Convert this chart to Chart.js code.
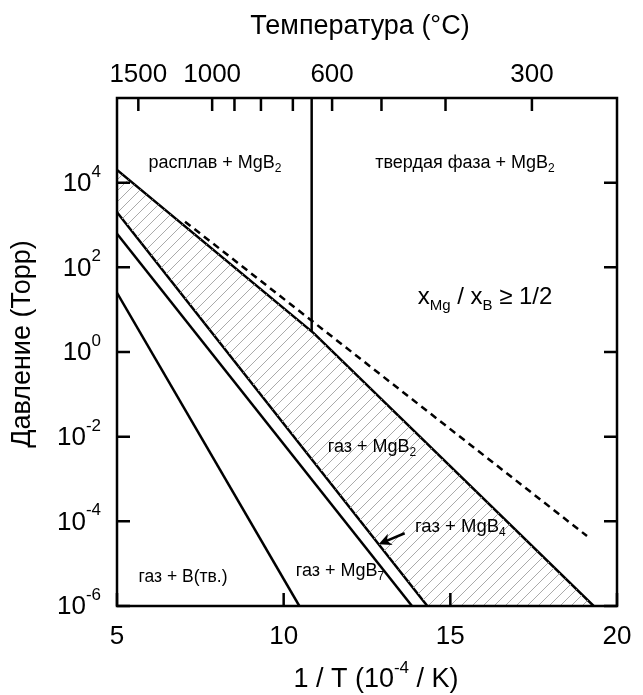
<!DOCTYPE html>
<html>
<head>
<meta charset="utf-8">
<script src="https://cdn.jsdelivr.net/npm/chart.js@4.4.0/dist/chart.umd.min.js"></script>
<style>
html, body { margin: 0; padding: 0; background: #fff; }
</style>
</head>
<body>
<canvas id="diag" width="643" height="695"></canvas>
<script>
// 1/T in 10^-4 K^-1, pressure in Torr
var xGasB  = [5, 10.47];         var pGasB  = [25, 1e-6];
var xGasB7 = [5, 13.85];         var pGasB7 = [620, 1e-6];
var xGasB4 = [5, 14.31];         var pGasB4 = [2000, 1e-6];
var xGasB2 = [5, 10.9, 19.3];    var pGasB2 = [20000, 2.8, 1e-6];
var xDash  = [7.04, 19.1];       var pDash  = [1200, 4.5e-5];
var xMelt = 10.84;               // Mg melting point, 650 C
var pTop = 1e6;

var tempTicks  = [1500, 1000, 900, 800, 700, 600, 500, 400, 300];
var tempLabels = [1500, 1000, 600, 300];
var yTickExp   = [-6, -4, -2, 0, 2, 4];
var xTickVals  = [5, 10, 15, 20];

var FONT = '"Liberation Sans", Arial, sans-serif';

// log-linear interpolation along a polyline
function logInterp(xs, ps, x) {
	for (var i = 0; i < xs.length - 1; i++) {
		if (x <= xs[i + 1] || i == xs.length - 2) {
			var t = (x - xs[i]) / (xs[i + 1] - xs[i]);
			var l = Math.log10(ps[i]) + t * (Math.log10(ps[i + 1]) - Math.log10(ps[i]));
			return Math.pow(10, l);
		}
	}
}

function pts(xs, ps) {
	var out = [];
	xs.forEach(function(x, i){ out.push({x: x, y: ps[i]}); });
	return out;
}

function hatchPattern() {
	var c = document.createElement('canvas');
	c.width = 11; c.height = 11;
	var g = c.getContext('2d');
	g.strokeStyle = '#aaaaaa';
	g.lineWidth = 1;
	g.beginPath();
	g.moveTo(-1, 12); g.lineTo(12, -1);
	g.moveTo(-6.5, 6.5); g.lineTo(6.5, -6.5);
	g.moveTo(4.5, 17.5); g.lineTo(17.5, 4.5);
	g.stroke();
	return g.createPattern(c, 'repeat');
}

// text with sub/superscripts: parts = [[text, 'sub'|'sup'|null], ...]
function rich(ctx, parts, x, y, size, align) {
	var small = Math.round(size * 0.64);
	var w = 0;
	parts.forEach(function(p){
		ctx.font = (p[1] ? small : size) + 'px ' + FONT;
		w += ctx.measureText(p[0]).width;
	});
	var cx = align == 'right' ? x - w : (align == 'left' ? x : x - w / 2);
	ctx.textAlign = 'left';
	ctx.textBaseline = 'middle';
	parts.forEach(function(p){
		var dy = 0;
		if (p[1] == 'sub') dy = size * 0.32;
		if (p[1] == 'sup') dy = -size * 0.45;
		ctx.font = (p[1] ? small : size) + 'px ' + FONT;
		ctx.fillText(p[0], cx, y + dy);
		cx += ctx.measureText(p[0]).width;
	});
}

var axesPlugin = {
	id: 'axesPlugin',
	afterDatasetsDraw: function(chart) {
		var ctx = chart.ctx, a = chart.chartArea;
		var xs = chart.scales.x, ys = chart.scales.y;
		ctx.save();
		ctx.fillStyle = '#000';
		ctx.strokeStyle = '#000';

		// melting line, from top down to the MgB2 boundary
		var xm = xs.getPixelForValue(xMelt);
		ctx.lineWidth = 2.5;
		ctx.beginPath();
		ctx.moveTo(xm, ys.getPixelForValue(pTop));
		ctx.lineTo(xm, ys.getPixelForValue(logInterp(xGasB2, pGasB2, xMelt)));
		ctx.stroke();

		// frame
		ctx.strokeRect(a.left, a.top, a.right - a.left, a.bottom - a.top);

		// ticks (inward)
		ctx.beginPath();
		yTickExp.forEach(function(e){
			var py = ys.getPixelForValue(Math.pow(10, e));
			ctx.moveTo(a.left, py); ctx.lineTo(a.left + 13, py);
			ctx.moveTo(a.right, py); ctx.lineTo(a.right - 13, py);
		});
		xTickVals.forEach(function(v){
			var px = xs.getPixelForValue(v);
			ctx.moveTo(px, a.bottom); ctx.lineTo(px, a.bottom - 13);
		});
		tempTicks.forEach(function(t){
			var px = xs.getPixelForValue(1e4 / (t + 273.15));
			ctx.moveTo(px, a.top); ctx.lineTo(px, a.top + 13);
		});
		ctx.stroke();

		// tick labels
		yTickExp.forEach(function(e){
			var py = ys.getPixelForValue(Math.pow(10, e));
			rich(ctx, [['10', null], [String(e), 'sup']], a.left - 16, py + 1, 26, 'right');
		});
		ctx.font = '26px ' + FONT;
		ctx.textAlign = 'center';
		ctx.textBaseline = 'middle';
		xTickVals.forEach(function(v){
			ctx.fillText(String(v), xs.getPixelForValue(v), a.bottom + 31);
		});
		tempLabels.forEach(function(t){
			ctx.fillText(String(t), xs.getPixelForValue(1e4 / (t + 273.15)), a.top - 23);
		});

		// axis titles
		ctx.font = '27px ' + FONT;
		ctx.fillText('Температура (°C)', 360, 27);
		rich(ctx, [['1 / T (10', null], ['-4', 'sup'], [' / K)', null]], 376, 680, 27, 'center');
		ctx.save();
		ctx.translate(23, 344);
		ctx.rotate(-Math.PI / 2);
		ctx.font = '27px ' + FONT;
		ctx.textAlign = 'center';
		ctx.fillText('Давление (Торр)', 0, 0);
		ctx.restore();

		// region labels
		function at(v, p) { return [xs.getPixelForValue(v), ys.getPixelForValue(p)]; }
		var q;
		q = at(7.94, Math.pow(10, 4.47));
		rich(ctx, [['расплав + MgB', null], ['2', 'sub']], q[0], q[1], 18, 'center');
		q = at(15.44, Math.pow(10, 4.47));
		rich(ctx, [['твердая фаза + MgB', null], ['2', 'sub']], q[0], q[1], 18, 'center');
		q = at(16.04, Math.pow(10, 1.28));
		rich(ctx, [['x', null], ['Mg', 'sub'], [' / x', null], ['B', 'sub'], [' ≥ 1/2', null]], q[0], q[1], 24, 'center');
		q = at(12.65, Math.pow(10, -2.24));
		rich(ctx, [['газ + MgB', null], ['2', 'sub']], q[0], q[1], 18, 'center');
		q = at(15.3, Math.pow(10, -4.14));
		rich(ctx, [['газ + MgB', null], ['4', 'sub']], q[0], q[1], 18.5, 'center');
		q = at(11.69, Math.pow(10, -5.17));
		rich(ctx, [['газ + MgB', null], ['7', 'sub']], q[0], q[1], 18, 'center');
		q = at(6.98, Math.pow(10, -5.33));
		rich(ctx, [['газ + B(тв.)', null]], q[0], q[1], 17.5, 'center');

		// arrow to the MgB4 line
		var tip = at(12.85, logInterp(xGasB4, pGasB4, 12.85));
		var tail = [tip[0] + 26, tip[1] - 11];
		var ang = Math.atan2(tip[1] - tail[1], tip[0] - tail[0]);
		ctx.lineWidth = 2.5;
		ctx.beginPath(); ctx.moveTo(tail[0], tail[1]); ctx.lineTo(tip[0] + 6 * Math.cos(ang + Math.PI), tip[1] + 6 * Math.sin(ang + Math.PI)); ctx.stroke();
		ctx.beginPath();
		ctx.moveTo(tip[0], tip[1]);
		ctx.lineTo(tip[0] - 14 * Math.cos(ang - 0.45), tip[1] - 14 * Math.sin(ang - 0.45));
		ctx.lineTo(tip[0] - 9 * Math.cos(ang), tip[1] - 9 * Math.sin(ang));
		ctx.lineTo(tip[0] - 14 * Math.cos(ang + 0.45), tip[1] - 14 * Math.sin(ang + 0.45));
		ctx.closePath(); ctx.fill();

		ctx.restore();
	}
};

var hatchPts = pts(xGasB2, pGasB2).concat(pts(xGasB4, pGasB4).reverse());

var line = function(xs, ps, extra) {
	var d = { data: pts(xs, ps), showLine: true, borderColor: '#000', borderWidth: 2.5,
		pointRadius: 0, fill: false, tension: 0 };
	for (var k in extra) d[k] = extra[k];
	return d;
};

new Chart(document.getElementById('diag'), {
	type: 'scatter',
	data: {
		datasets: [
			{ data: hatchPts, showLine: true, borderWidth: 0, borderColor: 'rgba(0,0,0,0)',
			  pointRadius: 0, fill: 'shape', backgroundColor: hatchPattern() },
			line(xGasB, pGasB),
			line(xGasB7, pGasB7),
			line(xGasB4, pGasB4),
			line(xGasB2, pGasB2),
			line(xDash, pDash, { borderDash: [7, 5] })
		]
	},
	options: {
		responsive: false,
		animation: false,
		devicePixelRatio: 1,
		layout: { padding: { top: 98, right: 26, bottom: 89, left: 117 } },
		scales: {
			x: { type: 'linear', min: 5, max: 20, display: false },
			y: { type: 'logarithmic', min: 1e-6, max: 1e6, display: false }
		},
		plugins: { legend: { display: false }, tooltip: { enabled: false } }
	},
	plugins: [axesPlugin]
});
</script>
</body>
</html>
